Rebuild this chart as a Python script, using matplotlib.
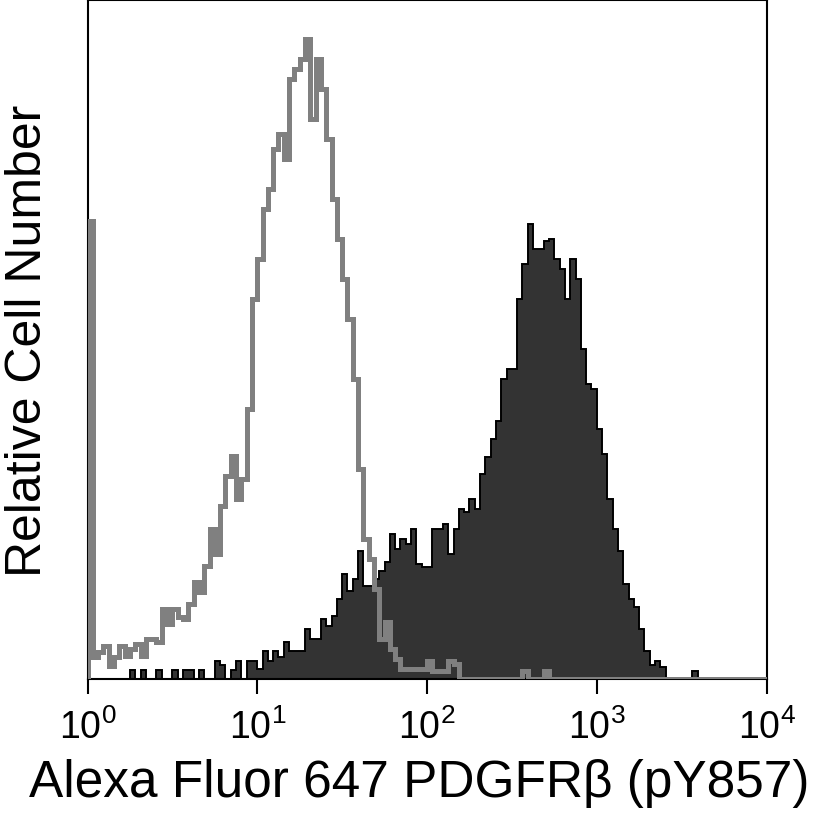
import numpy as np
import matplotlib
matplotlib.use("Agg")
import matplotlib.pyplot as plt
from matplotlib.ticker import FixedLocator, NullLocator, FuncFormatter

# ---- data: 128 log-spaced channels from 10^0 to 10^4 (relative cell counts) ----
decades = [1, 10, 100, 1000, 10000]
n_bins = 128

isotype = [458, 22, 27, 33, 13, 22, 33, 23, 30, 35,
           23, 40, 40, 37, 70, 55, 70, 62, 60, 75,
           97, 87, 113, 150, 125, 173, 203, 223, 180, 200,
           270, 380, 420, 470, 490, 530, 545, 520, 600, 610,
           620, 640, 560, 620, 590, 540, 480, 440, 400, 360,
           300, 210, 140, 120, 90, 40, 57, 30, 20, 10,
           10, 10, 10, 10, 18, 8, 8, 8, 18, 15,
           0, 0, 0, 0, 0, 0, 0, 0, 0, 0,
           0, 0, 8, 0, 0, 0, 8, 0, 0, 0,
           0, 0, 0, 0, 0, 0, 0, 0, 0, 0,
           0, 0, 0, 0, 0, 0, 0, 0, 0, 0,
           0, 0, 0, 0, 0, 0, 0, 0, 0, 0,
           0, 0, 0, 0, 0, 0, 0, 0]

pdgfrb = [0, 0, 0, 0, 0, 0, 0, 0, 9, 0,
          9, 0, 0, 9, 0, 0, 9, 0, 9, 9,
          0, 9, 0, 0, 18, 14, 0, 9, 18, 0,
          18, 18, 10, 28, 18, 28, 22, 37, 28, 28,
          28, 50, 40, 40, 60, 53, 63, 80, 105, 88,
          100, 128, 93, 93, 100, 108, 117, 145, 130, 140,
          135, 150, 115, 112, 112, 150, 150, 155, 125, 150,
          170, 167, 180, 170, 205, 222, 240, 258, 300, 310,
          310, 380, 415, 455, 430, 430, 438, 440, 420, 410,
          380, 420, 400, 330, 295, 290, 250, 225, 180, 150,
          128, 95, 80, 72, 50, 28, 14, 18, 12, 0,
          0, 0, 0, 0, 8, 0, 0, 0, 0, 0,
          0, 0, 0, 0, 0, 0, 0, 0]

xlabel = "Alexa Fluor 647 PDGFRβ (pY857)"
ylabel = "Relative Cell Number"

# ---- figure ----
plt.rcParams['font.family'] = ['Liberation Sans', 'DejaVu Sans']
fig = plt.figure(figsize=(8.13, 8.20), dpi=100)
ax = fig.add_axes([87.5 / 813, 140 / 820, 679 / 813, 679 / 820])

edges = np.logspace(0, 4, n_bins + 1)
ax.stairs(pdgfrb, edges, fill=True, color='#333333', zorder=2)
ax.stairs(pdgfrb, edges, color='black', lw=1.4, zorder=3)
ax.stairs(isotype, edges, color='#808080', lw=3.6, zorder=4)

ax.set_xscale('log')
ax.set_xlim(1, 10000)
ax.set_ylim(0, 679)

ax.xaxis.set_major_locator(FixedLocator(decades))
ax.xaxis.set_minor_locator(NullLocator())
ax.xaxis.set_major_formatter(FuncFormatter(lambda v, p: r'$\mathregular{10^{%d}}$' % round(np.log10(v))))
ax.set_yticks([])

for s in ax.spines.values():
    s.set_linewidth(1.5)

ax.tick_params(axis='x', direction='out', length=11, width=1.5, pad=10, labelsize=27)

ax.set_xlabel(xlabel, fontsize=37, labelpad=8)
ax.xaxis.set_label_coords(0.488, -0.117, transform=ax.transAxes)
ax.xaxis.label.set_va('top')
ax.set_ylabel(ylabel, fontsize=36, labelpad=26)

fig.savefig('out.png', dpi=100)
